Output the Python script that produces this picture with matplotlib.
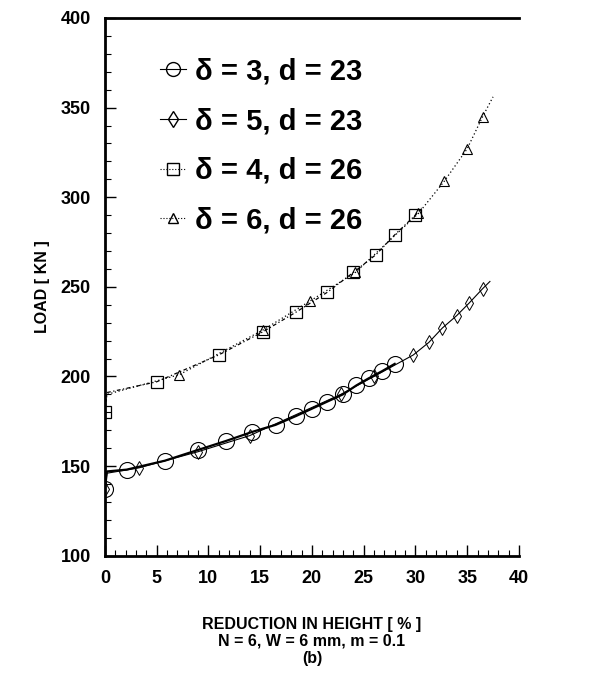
import numpy as np
import matplotlib.pyplot as plt
from matplotlib.ticker import MultipleLocator

# ---- data ----
# delta = 3, d = 23 (circles)
x_c = [0, 2.1, 5.8, 9.0, 11.7, 14.2, 16.5, 18.5, 20.0, 21.5, 23.0, 24.3, 25.5, 26.8, 28.0]
y_c = [137, 148, 153, 159, 164, 169, 173, 178, 182, 186, 190, 195, 199, 203, 207]
xl_c = [0, 0.2, 2.1, 5.8, 9.0, 11.7, 14.2, 16.5, 18.5, 20.0, 21.5, 23.0, 24.3, 25.5, 26.8, 28.0]
yl_c = [137, 147, 148, 153, 159, 164, 169, 173, 178, 182, 186, 190, 195, 199, 203, 207]

# delta = 5, d = 23 (thin diamonds)
x_d = [0, 3.3, 9.0, 14.0, 22.8, 26.0, 29.8, 31.3, 32.6, 34.0, 35.2, 36.5]
y_d = [137, 149, 158, 167, 190, 200, 212, 219, 227, 234, 241, 249]
xl_d = [0, 0.2, 3.3, 9.0, 14.0, 22.8, 26.0, 29.8, 31.3, 32.6, 34.0, 35.2, 36.5, 37.2]
yl_d = [137, 146, 149, 158, 167, 190, 200, 212, 219, 227, 234, 241, 249, 253]

# delta = 4, d = 26 (squares)
x_s = [0, 5.0, 11.0, 15.3, 18.5, 21.5, 24.0, 26.2, 28.0, 30.0]
y_s = [180, 197, 212, 225, 236, 247, 258, 268, 279, 290]
xl_s = [0, 0.2, 5.0, 11.0, 15.3, 18.5, 21.5, 24.0, 26.2, 28.0, 30.0, 30.6]
yl_s = [180, 191, 197, 212, 225, 236, 247, 258, 268, 279, 290, 294]

# delta = 6, d = 26 (triangles)
x_t = [7.2, 15.3, 19.8, 24.2, 30.3, 32.8, 35.0, 36.5]
y_t = [201, 226, 242, 258, 291, 309, 327, 345]
xl_t = [0, 0.2, 7.2, 15.3, 19.8, 24.2, 30.3, 32.8, 35.0, 36.5, 37.5]
yl_t = [180, 190, 201, 226, 242, 258, 291, 309, 327, 345, 356]

labels = ["δ = 3, d = 23", "δ = 5, d = 23", "δ = 4, d = 26", "δ = 6, d = 26"]

fig = plt.figure(figsize=(5.89, 6.92), dpi=100)
ax = fig.add_axes([0.178, 0.197, 0.703, 0.777])

# lines
ax.plot(xl_c, yl_c, color="black", lw=1.6)
ax.plot(xl_d, yl_d, color="black", lw=0.8)
ax.plot(xl_s, yl_s, color="black", lw=0.9, ls=(0, (3, 2, 1, 2)))
ax.plot(xl_t, yl_t, color="black", lw=0.9, ls=(0, (1, 2)))

# markers
ax.plot(x_c, y_c, ls="none", marker="o", ms=11.5, mfc="none", mec="black", mew=0.8)
ax.plot(x_d, y_d, ls="none", marker="d", ms=7, mfc="none", mec="black", mew=0.7)
ax.plot(x_s, y_s, ls="none", marker="s", ms=8.5, mfc="none", mec="black", mew=0.9)
ax.plot(x_t, y_t, ls="none", marker="^", ms=6.5, mfc="none", mec="black", mew=0.8)

# legend handles
h1, = ax.plot([], [], color="black", lw=0.8, marker="o", ms=10, mfc="none", mec="black")
h2, = ax.plot([], [], color="black", lw=0.8, marker="d", ms=8, mfc="none", mec="black")
h3, = ax.plot([], [], color="black", lw=0.8, ls=":", marker="s", ms=8, mfc="none", mec="black")
h4, = ax.plot([], [], color="black", lw=0.8, ls=":", marker="^", ms=7, mfc="none", mec="black")
leg = ax.legend([h1, h2, h3, h4], labels, loc="upper left", bbox_to_anchor=(0.07, 0.975),
                frameon=False, handlelength=0.9, handletextpad=0.3, labelspacing=0.74,
                prop={"family": ["Liberation Sans", "DejaVu Sans"], "weight": "bold",
                      "size": 21})

ax.set_xlim(0, 40)
ax.set_ylim(100, 400)
ax.xaxis.set_major_locator(MultipleLocator(5))
ax.xaxis.set_minor_locator(MultipleLocator(1))
ax.yaxis.set_major_locator(MultipleLocator(50))
ax.yaxis.set_minor_locator(MultipleLocator(10))
ax.tick_params(which="major", direction="in", length=8, width=1.0, labelsize=13, pad=10)
ax.tick_params(which="minor", direction="in", length=4, width=0.8)
for lab in ax.get_xticklabels() + ax.get_yticklabels():
    lab.set_fontweight("bold")
    lab.set_family("Liberation Sans")

ax.spines["right"].set_visible(False)
for sp in ["left", "bottom", "top"]:
    ax.spines[sp].set_linewidth(2.0)

ax.set_ylabel("LOAD [ KN ]", fontsize=11.5, fontweight="bold", family="Liberation Sans", labelpad=8)
ax.set_xlabel("REDUCTION IN HEIGHT [ % ]\nN = 6, W = 6 mm, m = 0.1\n(b)", fontsize=11.5,
              fontweight="bold", family="Liberation Sans", labelpad=22, linespacing=1.15)

fig.savefig("out.png", dpi=100)
